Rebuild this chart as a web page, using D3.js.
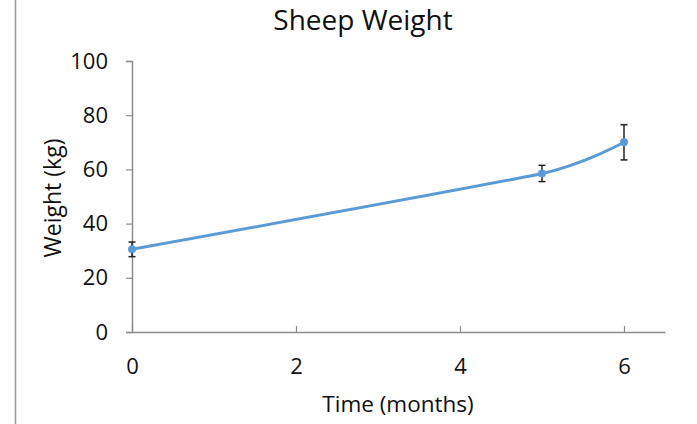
<!DOCTYPE html>
<html>
<head>
<meta charset="utf-8">
<script src="https://cdn.jsdelivr.net/npm/d3@7"></script>
<style>
  html, body { margin: 0; padding: 0; background: #fff; }
  svg { display: block; font-family: "Open Sans", "Liberation Sans", sans-serif; }
</style>
</head>
<body>
<svg id="chart" width="697" height="424"></svg>
<script>
// Sheep weight over time, with error bars
const months = [0, 5, 6];
const weights = [30.5, 58.5, 70];
const errors = [2.7, 3, 6.5];
const xTicks = [0, 2, 4, 6];
const yTicks = [0, 20, 40, 60, 80, 100];

(function draw() {
  const svg = d3.select("#chart");
  const H = 424;
  const plotLeft = 132, plotRight = 665, plotTop = 61, plotBottom = 332;

  const x = d3.scaleLinear().domain([0, 6.5]).range([plotLeft, plotRight]);
  const y = d3.scaleLinear().domain([0, 100]).range([plotBottom, plotTop]);

  const axisColor = "#8c8c8c";
  const textColor = "#111";

  // frame edge on the left
  svg.append("line")
    .attr("x1", 15.5).attr("x2", 15.5).attr("y1", 0).attr("y2", H)
    .attr("stroke", "#9a9a9a").attr("stroke-width", 1.5);

  // title
  svg.append("text")
    .attr("x", 363).attr("y", 30)
    .attr("text-anchor", "middle")
    .attr("font-size", 28).attr("fill", textColor)
    .text("Sheep Weight");

  // y axis
  const yAxis = svg.append("g")
    .attr("transform", `translate(${plotLeft},0)`)
    .call(d3.axisLeft(y).tickValues(yTicks).tickFormat(d3.format("d")).tickSize(6).tickPadding(18));
  yAxis.select(".domain").attr("stroke", axisColor).attr("stroke-width", 1.5);
  yAxis.selectAll(".tick line").attr("stroke", axisColor).attr("stroke-width", 1.2);
  yAxis.selectAll(".tick text").attr("font-size", 22).attr("fill", textColor)
    .attr("font-family", "'Open Sans', sans-serif");

  // x axis
  const xAxis = svg.append("g")
    .attr("transform", `translate(0,${plotBottom})`)
    .call(d3.axisBottom(x).tickValues(xTicks).tickFormat(d3.format("d"))
      .tickSizeInner(-6).tickSizeOuter(0).tickPadding(26));
  xAxis.select(".domain").attr("stroke", axisColor).attr("stroke-width", 1.5);
  xAxis.selectAll(".tick line").attr("stroke", axisColor).attr("stroke-width", 1.2);
  xAxis.selectAll(".tick text").attr("font-size", 22).attr("fill", textColor)
    .attr("font-family", "'Open Sans', sans-serif");

  // axis titles
  svg.append("text")
    .attr("x", 398).attr("y", 412)
    .attr("text-anchor", "middle")
    .attr("font-size", 22.5).attr("fill", textColor)
    .text("Time (months)");

  svg.append("text")
    .attr("transform", "translate(61,198) rotate(-90)")
    .attr("text-anchor", "middle")
    .attr("font-size", 23).attr("fill", textColor)
    .text("Weight (kg)");

  const pts = months.map((m, i) => ({ m, w: weights[i], e: errors[i] }));

  // smoothed line
  const line = d3.line()
    .x(d => x(d.m)).y(d => y(d.w))
    .curve(d3.curveCardinal.tension(0.5));
  svg.append("path")
    .datum(pts)
    .attr("d", line)
    .attr("fill", "none")
    .attr("stroke", "#5b9bd5")
    .attr("stroke-width", 3);

  // error bars
  const eb = svg.append("g").attr("stroke", "#222").attr("stroke-width", 1.5);
  pts.forEach(d => {
    const cx = x(d.m);
    eb.append("line").attr("x1", cx).attr("x2", cx).attr("y1", y(d.w + d.e)).attr("y2", y(d.w - d.e));
    eb.append("line").attr("x1", cx - 3.5).attr("x2", cx + 3.5).attr("y1", y(d.w + d.e)).attr("y2", y(d.w + d.e));
    eb.append("line").attr("x1", cx - 3.5).attr("x2", cx + 3.5).attr("y1", y(d.w - d.e)).attr("y2", y(d.w - d.e));
  });

  // markers
  svg.append("g").selectAll("circle")
    .data(pts).join("circle")
    .attr("cx", d => x(d.m)).attr("cy", d => y(d.w))
    .attr("r", 4).attr("fill", "#5b9bd5");
})();
</script>
</body>
</html>
